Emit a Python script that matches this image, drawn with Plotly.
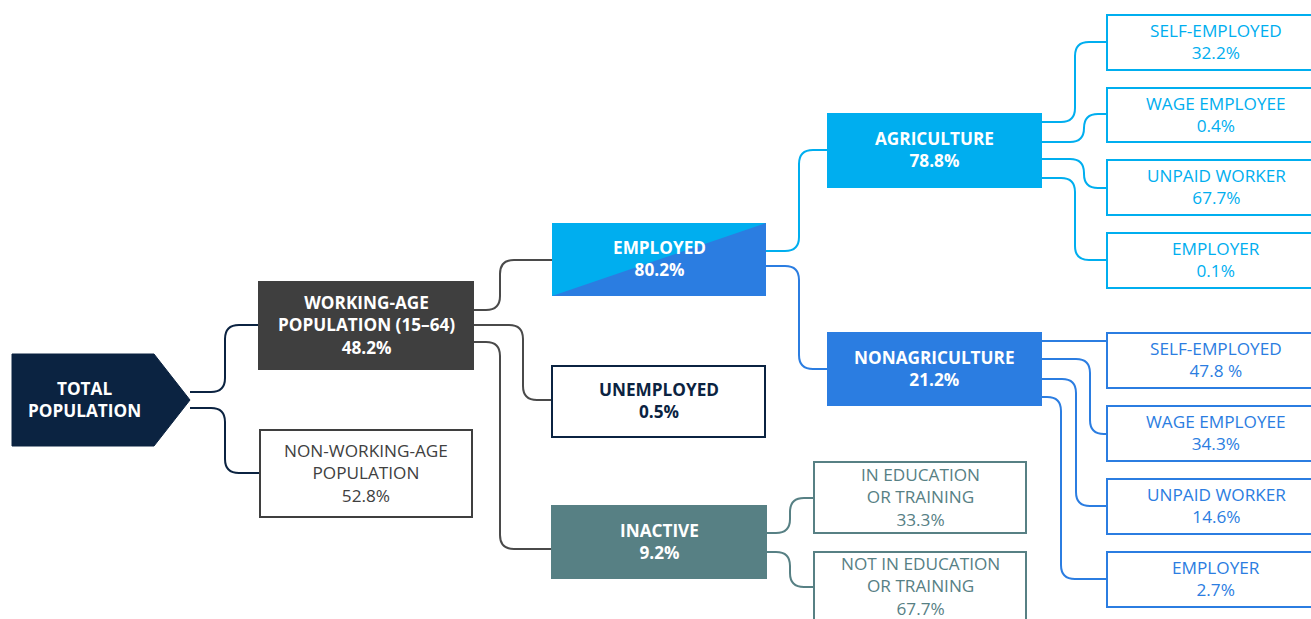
import plotly.graph_objects as go

# ---------------- data ----------------
node_names = [
    "TOTAL<br>POPULATION",
    "WORKING-AGE<br>POPULATION (15–64)",
    "NON-WORKING-AGE<br>POPULATION",
    "EMPLOYED",
    "UNEMPLOYED",
    "INACTIVE",
    "AGRICULTURE",
    "NONAGRICULTURE",
    "IN EDUCATION<br>OR TRAINING",
    "NOT IN EDUCATION<br>OR TRAINING",
    "SELF-EMPLOYED", "WAGE EMPLOYEE", "UNPAID WORKER", "EMPLOYER",
    "SELF-EMPLOYED", "WAGE EMPLOYEE", "UNPAID WORKER", "EMPLOYER",
]
node_values = [
    "", "48.2%", "52.8%", "80.2%", "0.5%", "9.2%", "78.8%", "21.2%",
    "33.3%", "67.7%",
    "32.2%", "0.4%", "67.7%", "0.1%",
    "47.8 %", "34.3%", "14.6%", "2.7%",
]
node_parents = [None, 0, 0, 1, 1, 1, 3, 3, 5, 5, 6, 6, 6, 6, 7, 7, 7, 7]

# ---------------- layout (pixel geometry) ----------------
NAVY = "#0b2341"
DGREY = "#3f3f3f"
LBLUE = "#00aeef"
BLUE = "#2b7de1"
TEAL = "#578084"

boxes = {
    0: (12, 354, 190, 446),
    1: (259, 282, 473, 369),
    2: (260, 430, 472, 517),
    3: (552, 223, 766, 296),
    4: (552, 366, 765, 437),
    5: (552, 506, 766, 578),
    6: (828, 114, 1041, 187),
    7: (828, 333, 1041, 405),
    8: (814, 462, 1026, 533),
    9: (814, 552, 1026, 624),
    10: (1107, 15, 1325, 70),
    11: (1107, 88, 1325, 142),
    12: (1107, 160, 1325, 215),
    13: (1107, 233, 1325, 288),
    14: (1107, 333, 1325, 388),
    15: (1107, 406, 1325, 461),
    16: (1107, 479, 1325, 534),
    17: (1107, 552, 1325, 607),
}
# style: (fill, border, text colour, bold)
styles = {
    0: (NAVY, NAVY, "white", True),
    1: (DGREY, DGREY, "white", True),
    2: ("white", DGREY, "#404040", False),
    3: ("diag", None, "white", True),
    4: ("white", NAVY, NAVY, True),
    5: (TEAL, TEAL, "white", True),
    6: (LBLUE, LBLUE, "white", True),
    7: (BLUE, BLUE, "white", True),
    8: ("white", TEAL, TEAL, False),
    9: ("white", TEAL, TEAL, False),
}
for i in range(10, 14):
    styles[i] = ("white", LBLUE, LBLUE, False)
for i in range(14, 18):
    styles[i] = ("white", BLUE, BLUE, False)

# edges: child -> (exit y at parent, vertical x, entry y at child, colour)
edges = {
    1: (392, 225, 325, NAVY),
    2: (408, 225, 473, NAVY),
    3: (310, 500, 260, "#4a4a4a"),
    4: (325, 523, 400, "#4a4a4a"),
    5: (342, 500, 549, "#4a4a4a"),
    6: (251, 799, 150, LBLUE),
    7: (266, 799, 369, BLUE),
    8: (533, 790, 498, TEAL),
    9: (552, 790, 587, TEAL),
    10: (122, 1075, 42, LBLUE),
    11: (142, 1084, 114, LBLUE),
    12: (159, 1084, 188, LBLUE),
    13: (178, 1075, 260, LBLUE),
    14: (341, 1075, 341, BLUE),
    15: (359, 1090, 434, BLUE),
    16: (379, 1076, 506, BLUE),
    17: (397, 1061, 579, BLUE),
}

FONT = "Open Sans"
FSIZE = 17.2


def connector(x0, y0, xv, x1, y1, r=14):
    if abs(y1 - y0) < 1:
        return f"M{x0},{y0} L{x1},{y1}"
    s = 1 if y1 > y0 else -1
    r = min(r, abs(y1 - y0) / 2)
    return (f"M{x0},{y0} L{xv - r},{y0} Q{xv},{y0} {xv},{y0 + s * r} "
            f"L{xv},{y1 - s * r} Q{xv},{y1} {xv + r},{y1} L{x1},{y1}")


shapes = []
for child, (ey, xv, iy, col) in edges.items():
    p = node_parents[child]
    px = boxes[p][2]
    cx = boxes[child][0]
    shapes.append(dict(type="path", path=connector(px, ey, xv, cx, iy),
                       line=dict(color=col, width=2), layer="above"))

annotations = []
for i, name in enumerate(node_names):
    x0, y0, x1, y1 = boxes[i]
    fill, border, tcol, bold = styles[i]
    if i == 0:
        tip = (x0 + x1) / 2 + 53
        shapes.append(dict(type="path",
                           path=f"M{x0},{y0} L{tip},{y0} L{x1},{(y0 + y1) / 2} L{tip},{y1} L{x0},{y1} Z",
                           fillcolor=fill, line=dict(color=fill, width=1), layer="above"))
        cx = 84
    elif fill == "diag":
        shapes.append(dict(type="rect", x0=x0, y0=y0, x1=x1, y1=y1,
                           fillcolor=BLUE, line=dict(width=0), layer="above"))
        shapes.append(dict(type="path", path=f"M{x0},{y1} L{x0},{y0} L{x1},{y0} Z",
                           fillcolor=LBLUE, line=dict(width=0), layer="above"))
        cx = (x0 + x1) / 2
    else:
        shapes.append(dict(type="rect", x0=x0, y0=y0, x1=x1, y1=y1,
                           fillcolor=fill, line=dict(color=border, width=2), layer="above"))
        cx = (x0 + x1) / 2
    if i >= 10:
        cx = 1216
    if i == 9:
        cy = 586
    else:
        cy = (y0 + y1) / 2 - 1
    lines = name.split("<br>") + ([node_values[i]] if node_values[i] else [])
    if bold:
        lines = [f"<b>{ln}</b>" for ln in lines]
    annotations.append(dict(
        x=cx, y=cy, xref="x", yref="y",
        text="<br>".join(lines), showarrow=False,
        font=dict(family=FONT, size=FSIZE, color=tcol),
        align="center", xanchor="center", yanchor="middle", borderpad=0))

fig = go.Figure()
fig.add_trace(go.Scatter(x=[0, 1311], y=[0, 619], mode="markers",
                         marker=dict(opacity=0), hoverinfo="skip", showlegend=False))
fig.update_layout(
    width=1311, height=619,
    margin=dict(l=0, r=0, t=0, b=0),
    paper_bgcolor="white", plot_bgcolor="white",
    xaxis=dict(range=[0, 1311], visible=False, fixedrange=True),
    yaxis=dict(range=[619, 0], visible=False, fixedrange=True),
    shapes=shapes, annotations=annotations, showlegend=False,
)
fig.write_html("out.html", config={"displayModeBar": False},
               post_script="document.body.style.margin='0';document.body.style.overflow='hidden';")
